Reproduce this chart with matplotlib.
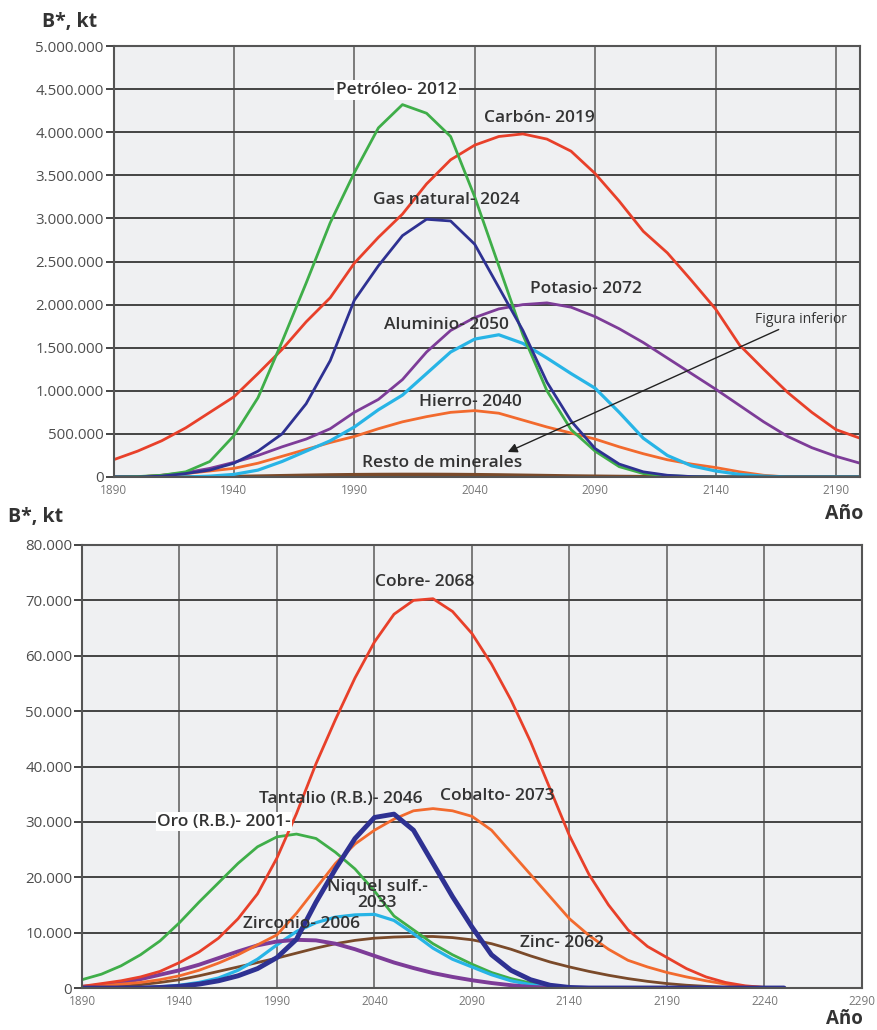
import numpy as np
import matplotlib
matplotlib.use("Agg")
import matplotlib.pyplot as plt
import matplotlib.ticker as mticker

plt.rcParams["font.family"] = ["Open Sans", "DejaVu Sans"]

# ---------- upper chart: energy + major minerals (kt) ----------
yrs_top = list(range(1890, 2201, 10))

petroleo = [0, 5e3, 20e3, 60e3, 180e3, 480e3, 0.92e6, 1.57e6, 2.25e6, 2.95e6, 3.53e6, 4.05e6,
            4.32e6, 4.22e6, 3.95e6, 3.25e6, 2.45e6, 1.65e6, 1.0e6, 0.55e6, 0.3e6, 0.12e6,
            0.04e6, 0.015e6, 0.005e6, 0, 0, 0, 0, 0, 0, 0]
carbon = [0.2e6, 0.3e6, 0.42e6, 0.57e6, 0.75e6, 0.93e6, 1.2e6, 1.48e6, 1.8e6, 2.08e6, 2.48e6,
          2.78e6, 3.05e6, 3.4e6, 3.68e6, 3.85e6, 3.95e6, 3.98e6, 3.92e6, 3.78e6, 3.52e6, 3.2e6,
          2.85e6, 2.6e6, 2.28e6, 1.95e6, 1.53e6, 1.25e6, 0.98e6, 0.75e6, 0.55e6, 0.45e6]
gas = [0, 0, 0.01e6, 0.04e6, 0.08e6, 0.16e6, 0.3e6, 0.5e6, 0.85e6, 1.35e6, 2.05e6, 2.45e6,
       2.8e6, 2.99e6, 2.97e6, 2.7e6, 2.2e6, 1.7e6, 1.1e6, 0.65e6, 0.33e6, 0.15e6, 0.06e6,
       0.02e6, 0.005e6, 0, 0, 0, 0, 0, 0, 0]
potasio = [0, 0, 0.02e6, 0.05e6, 0.1e6, 0.17e6, 0.25e6, 0.35e6, 0.44e6, 0.56e6, 0.75e6, 0.9e6,
           1.13e6, 1.45e6, 1.7e6, 1.85e6, 1.95e6, 2.0e6, 2.02e6, 1.97e6, 1.86e6, 1.72e6, 1.56e6,
           1.38e6, 1.2e6, 1.02e6, 0.83e6, 0.64e6, 0.47e6, 0.34e6, 0.24e6, 0.16e6]
aluminio = [0, 0, 0, 0, 0.01e6, 0.03e6, 0.08e6, 0.18e6, 0.3e6, 0.42e6, 0.58e6, 0.78e6, 0.95e6,
            1.2e6, 1.45e6, 1.6e6, 1.65e6, 1.55e6, 1.38e6, 1.2e6, 1.03e6, 0.75e6, 0.45e6, 0.25e6,
            0.13e6, 0.07e6, 0.03e6, 0.01e6, 0, 0, 0, 0]
hierro = [0, 0, 0.02e6, 0.04e6, 0.07e6, 0.1e6, 0.16e6, 0.24e6, 0.32e6, 0.4e6, 0.47e6, 0.56e6,
          0.64e6, 0.7e6, 0.75e6, 0.77e6, 0.74e6, 0.66e6, 0.58e6, 0.51e6, 0.44e6, 0.35e6, 0.27e6,
          0.2e6, 0.15e6, 0.11e6, 0.06e6, 0.02e6, 0, 0, 0, 0]
resto = [0, 0, 0, 0, 0, 5e3, 10e3, 15e3, 20e3, 24e3, 27e3, 29e3, 30e3, 30e3, 29e3, 27e3, 24e3,
         20e3, 16e3, 12e3, 9e3, 6e3, 4e3, 2e3, 1e3, 0, 0, 0, 0, 0, 0, 0]

# ---------- lower chart: other minerals (kt) ----------
yrs_bot = list(range(1890, 2251, 10))

cobre = [0.3, 0.8, 1.3, 2.0, 3.0, 4.6, 6.5, 9.0, 12.5, 17.0, 23.5, 31.5, 40.5, 48.5, 56.0, 62.5,
         67.5, 70.0, 70.3, 68.0, 64.0, 58.5, 52.0, 44.5, 36.0, 27.5, 20.5, 15.0, 10.5, 7.5, 5.5,
         3.5, 2.0, 1.0, 0.4, 0.1, 0]
cobalto = [0.2, 0.4, 0.7, 1.0, 1.5, 2.2, 3.2, 4.5, 6.0, 7.8, 9.6, 13.5, 18.0, 22.5, 26.0, 28.5,
           30.5, 32.0, 32.4, 32.0, 31.0, 28.5, 24.5, 20.5, 16.5, 12.5, 9.5, 7.0, 5.0, 3.8, 2.8,
           2.0, 1.3, 0.7, 0.3, 0.1, 0]
tantalio = [0, 0, 0, 0, 0.1, 0.3, 0.7, 1.3, 2.2, 3.5, 5.5, 8.8, 15.5, 21.5, 27.0, 30.8, 31.4,
            28.5, 22.5, 16.5, 11.0, 6.0, 3.2, 1.5, 0.5, 0.1, 0, 0, 0, 0, 0, 0, 0, 0, 0, 0, 0]
oro = [1.5, 2.5, 4.0, 6.0, 8.5, 11.8, 15.5, 19.0, 22.5, 25.5, 27.3, 27.8, 27.0, 24.5, 21.5, 17.5,
       13.0, 10.5, 8.0, 6.0, 4.3, 2.8, 1.7, 0.9, 0.4, 0.1, 0, 0, 0, 0, 0, 0, 0, 0, 0, 0, 0]
niquel = [0, 0, 0, 0, 0.2, 0.5, 1.0, 1.8, 3.2, 5.2, 7.8, 10.2, 11.8, 12.8, 13.2, 13.3, 12.2, 9.8,
          7.2, 5.2, 3.8, 2.4, 1.3, 0.6, 0.2, 0, 0, 0, 0, 0, 0, 0, 0, 0, 0, 0, 0]
zirconio = [0.2, 0.5, 1.0, 1.6, 2.4, 3.2, 4.2, 5.4, 6.6, 7.7, 8.4, 8.7, 8.6, 8.0, 7.0, 5.8, 4.6,
            3.6, 2.7, 2.0, 1.4, 0.9, 0.5, 0.2, 0.05, 0, 0, 0, 0, 0, 0, 0, 0, 0, 0, 0, 0]
zinc = [0, 0.1, 0.3, 0.6, 1.0, 1.5, 2.2, 3.0, 3.8, 4.6, 5.4, 6.3, 7.2, 8.0, 8.6, 9.0, 9.2, 9.3,
        9.3, 9.1, 8.7, 8.0, 7.0, 5.8, 4.7, 3.8, 3.0, 2.3, 1.7, 1.2, 0.8, 0.5, 0.3, 0.1, 0, 0, 0]

GREEN, RED, BLUE = "#3fae49", "#e8402a", "#2e3192"
PURPLE, CYAN, ORANGE, BROWN = "#7d3c98", "#27b4e6", "#f26a2e", "#7a4a2a"
TXT = "#333333"
BG = "#eff0f2"

W, H = 877, 1030
fig = plt.figure(figsize=(W / 100, H / 100), dpi=100)
ax1 = fig.add_axes([113.5 / W, 1 - 477 / H, (860 - 113.5) / W, (477 - 46) / H])
ax2 = fig.add_axes([82 / W, 1 - 988 / H, (862 - 82) / W, (988 - 545) / H])


def style(ax, xmax, ymax, ystep, xticks):
    ax.set_facecolor(BG)
    ax.set_xlim(1890, xmax)
    ax.set_ylim(0, ymax)
    ax.set_yticks(np.arange(0, ymax + 1, ystep))
    ax.set_xticks(xticks)
    ax.yaxis.set_major_formatter(mticker.FuncFormatter(lambda v, p: f"{int(v):,}".replace(",", ".")))
    ax.grid(axis="y", color="#444444", lw=1.4)
    ax.grid(axis="x", color="#7a7a7a", lw=1.4)
    ax.set_axisbelow(True)
    for s in ax.spines.values():
        s.set_color("#555555")
        s.set_linewidth(1.5)
    ax.tick_params(axis="y", length=6, width=1.4, color="#444444", labelsize=10.8,
                   labelcolor="#4d4d4d", pad=1)
    ax.tick_params(axis="x", length=0, labelsize=8.5, labelcolor="#777777", pad=5)


style(ax1, 2200, 5e6, 5e5, range(1890, 2191, 50))
style(ax2, 2290, 80, 10, range(1890, 2291, 50))
ax2.yaxis.set_major_formatter(mticker.FuncFormatter(lambda v, p: f"{int(v * 1000):,}".replace(",", ".")))

kw = dict(solid_capstyle="round", solid_joinstyle="round")
ax1.plot(yrs_top, resto, color=BROWN, lw=2.5, **kw)
ax1.plot(yrs_top, hierro, color=ORANGE, lw=2, **kw)
ax1.plot(yrs_top, aluminio, color=CYAN, lw=2.3, **kw)
ax1.plot(yrs_top, potasio, color=PURPLE, lw=2, **kw)
ax1.plot(yrs_top, carbon, color=RED, lw=2, **kw)
ax1.plot(yrs_top, petroleo, color=GREEN, lw=2, **kw)
ax1.plot(yrs_top, gas, color=BLUE, lw=2, **kw)

ax2.plot(yrs_bot, zinc, color=BROWN, lw=2, **kw)
ax2.plot(yrs_bot, oro, color=GREEN, lw=2, **kw)
ax2.plot(yrs_bot, niquel, color=CYAN, lw=2.3, **kw)
ax2.plot(yrs_bot, zirconio, color=PURPLE, lw=2.8, **kw)
ax2.plot(yrs_bot, cobalto, color=ORANGE, lw=2, **kw)
ax2.plot(yrs_bot, cobre, color=RED, lw=2, **kw)
ax2.plot(yrs_bot, tantalio, color=BLUE, lw=3.5, **kw)

lab = dict(fontsize=12.5, color=TXT, ha="center", va="center", fontweight="semibold")
ax1.text(2007.6, 4.49e6, "Petróleo- 2012",
         bbox=dict(facecolor="white", edgecolor="none", pad=1.5), **lab)
ax1.text(2067, 4.165e6, "Carbón- 2019", **lab)
ax1.text(2028, 3.21e6, "Gas natural- 2024", **lab)
ax1.text(2086, 2.18e6, "Potasio- 2072", **lab)
ax1.text(2028.3, 1.76e6, "Aluminio- 2050", **lab)
ax1.text(2038, 0.87e6, "Hierro- 2040", **lab)
ax1.text(2026.3, 0.16e6, "Resto de minerales", **lab)
ax1.annotate("Figura inferior", xy=(2053.7, 0.29e6), xytext=(2156.6, 1.83e6),
             fontsize=10, color=TXT, ha="left", va="center",
             arrowprops=dict(arrowstyle="-|>", color="#222222", lw=1, mutation_scale=14,
                             shrinkA=0, shrinkB=0))

ax2.text(2065.9, 73.3, "Cobre- 2068", **lab)
ax2.text(2022.8, 34.1, "Tantalio (R.B.)- 2046", **lab)
ax2.text(2102.8, 34.7, "Cobalto- 2073", **lab)
ax2.text(1962.8, 30.0, "Oro (R.B.)- 2001-",
         bbox=dict(facecolor="white", edgecolor="none", pad=1.0), **lab)
ax2.text(2041.3, 16.8, "Niquel sulf.-\n2033", linespacing=1.0, **lab)
ax2.text(2002.8, 11.55, "Zirconio- 2006", **lab)
ax2.text(2136.2, 8.1, "Zinc- 2062", **lab)

# axis captions
cap = dict(fontsize=14, fontweight="bold", color=TXT)
fig.text(42 / W, 1 - 22 / H, "B*, kt", ha="left", va="center", **cap)
fig.text(8 / W, 1 - 517 / H, "B*, kt", ha="left", va="center", **cap)
fig.text(863 / W, 1 - 514 / H, "Año", ha="right", va="center", **cap)
fig.text(863 / W, 1 - 1029 / H, "Año", ha="right", va="bottom", fontsize=13.5,
         fontweight="bold", color=TXT)

fig.savefig("out.png", dpi=100, facecolor="white")
